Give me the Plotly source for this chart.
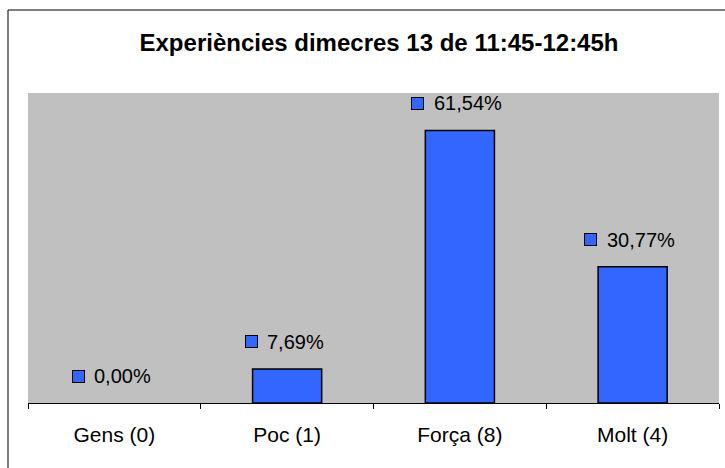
import plotly.graph_objects as go

categories = ["Gens (0)", "Poc (1)", "Força (8)", "Molt (4)"]
percentages = [0.00, 7.69, 61.54, 30.77]
value_labels = ["0,00%", "7,69%", "61,54%", "30,77%"]

W, H = 725, 468
ML, MR, MT, MB = 28, 6, 93, 65
pw, ph = W - ML - MR, H - MT - MB
FONT = "Arial, Liberation Sans, sans-serif"

fig = go.Figure()
fig.add_trace(go.Bar(
    x=categories, y=percentages, width=0.4,
    marker=dict(color="#3366FF",
                line=dict(color="black",
                          width=[1.5 if v > 0 else 0 for v in percentages])),
    hoverinfo="x+y", showlegend=False,
))

annotations = []
for cat, val, lab in zip(categories, percentages, value_labels):
    text_w = 12 * len(lab)  # rough pixel width of the label text
    # legend-key square in front of the label
    annotations.append(dict(
        x=cat, y=val, xref="x", yref="y", text=" ", showarrow=False,
        width=11, height=11, bgcolor="#3366FF", bordercolor="black",
        borderwidth=1, borderpad=0, font=dict(size=4),
        xanchor="center", yanchor="middle",
        xshift=8 - text_w / 2 - 14, yshift=27,
    ))
    annotations.append(dict(
        x=cat, y=val, xref="x", yref="y", text=lab, showarrow=False,
        font=dict(family=FONT, size=20, color="black"),
        xanchor="center", yanchor="middle", xshift=8, yshift=27,
    ))

fig.update_layout(
    width=W, height=H,
    margin=dict(l=ML, r=MR, t=MT, b=MB),
    paper_bgcolor="white", plot_bgcolor="#C0C0C0",
    title=dict(text="<b>Experiències dimecres 13 de 11:45-12:45h</b>",
               x=379 / W, xanchor="center", y=1 - 43 / H, yanchor="middle",
               font=dict(family=FONT, size=24, color="black")),
    font=dict(family=FONT, size=20, color="black"),
    annotations=annotations,
    shapes=[dict(
        type="rect", xref="paper", yref="paper",
        x0=(8 - ML) / pw, x1=(740 - ML) / pw,
        y0=(H - MB - 480) / ph, y1=(H - MB - 10) / ph,
        line=dict(color="black", width=1), fillcolor="rgba(0,0,0,0)", layer="below",
    )],
)
fig.update_xaxes(
    showline=True, linecolor="black", linewidth=1,
    ticks="outside", tickson="boundaries", ticklen=5, tickcolor="black",
    ticklabelstandoff=13, showgrid=False,
    tickfont=dict(family=FONT, size=21, color="black"),
)
fig.update_yaxes(range=[0, 70], visible=False, showgrid=False, zeroline=False)

fig.write_html("out.html", config={"displayModeBar": False},
               post_script="document.body.style.margin='0';")
